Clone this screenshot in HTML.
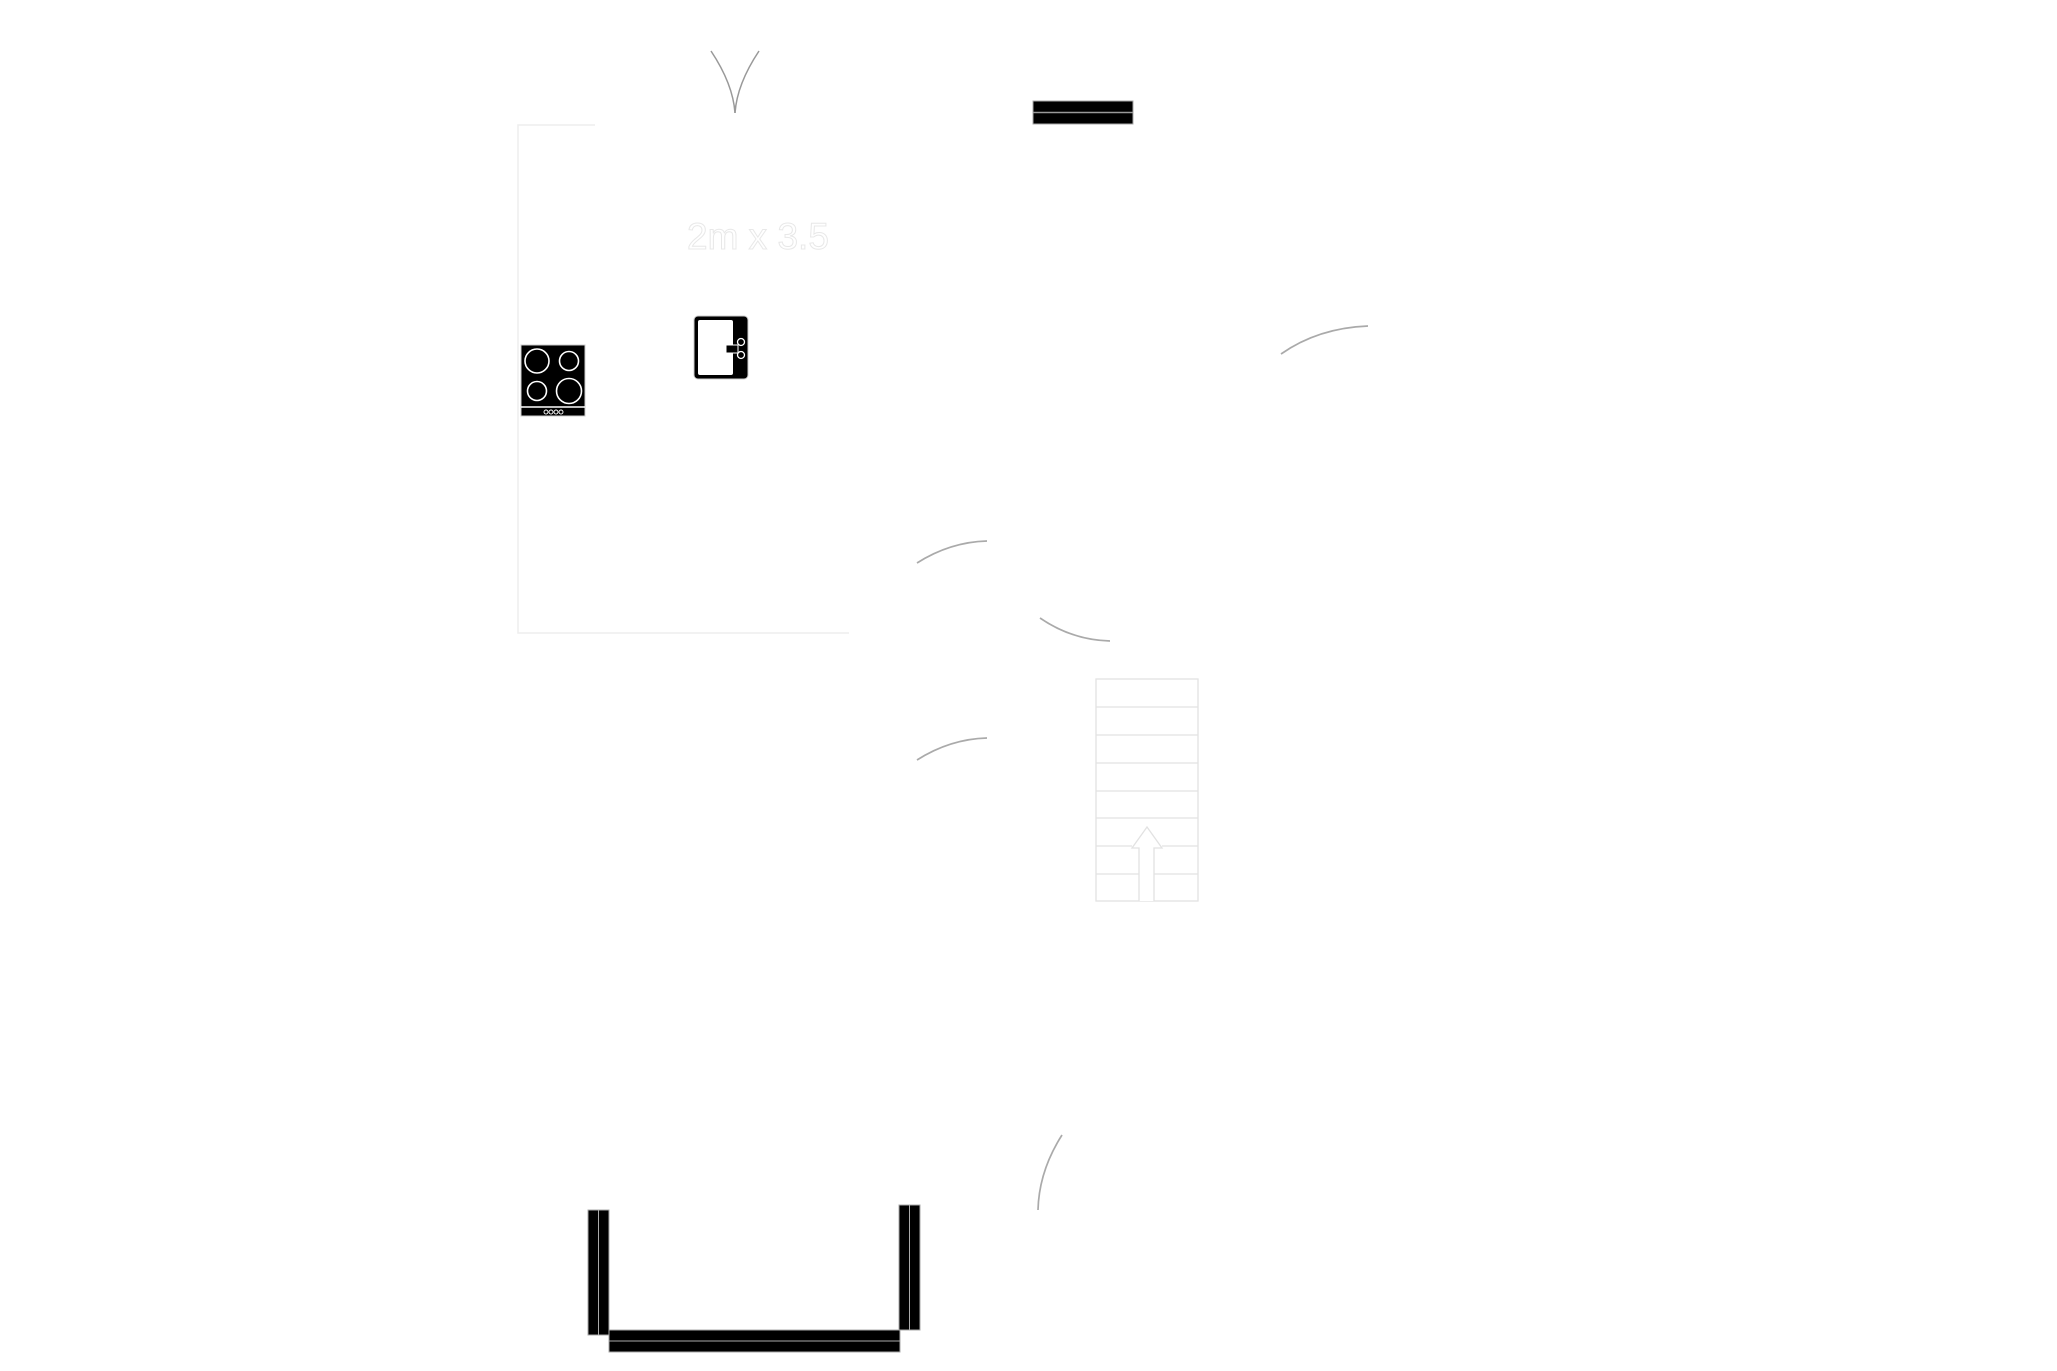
<!DOCTYPE html>
<html><head><meta charset="utf-8"><style>
html,body{margin:0;padding:0;background:#fff;}
svg{display:block;}
</style></head><body>
<svg width="2057" height="1371" viewBox="0 0 2057 1371" xmlns="http://www.w3.org/2000/svg">
<rect width="2057" height="1371" fill="#fff"/>
<!-- room outline -->
<path d="M595 125 H518 V633 H849" fill="none" stroke="#eee" stroke-width="1.5"/>
<!-- Y door swings -->
<path d="M711 51 Q733 84 735 113" fill="none" stroke="#999" stroke-width="1.5"/>
<path d="M759 51 Q737 84 735 113" fill="none" stroke="#999" stroke-width="1.5"/>
<!-- top bar -->
<rect x="1033" y="101" width="100" height="23" fill="#000" stroke="#aaa" stroke-width="1"/>
<line x1="1033" y1="112.5" x2="1133" y2="112.5" stroke="#999" stroke-width="1.5"/>
<!-- text -->
<text x="687" y="249" font-family="Liberation Sans, sans-serif" font-size="37" fill="#fff" stroke="#e8e8e8" stroke-width="1">2m  x 3.5</text>
<!-- sink -->
<rect x="694" y="316" width="54" height="63" rx="4" fill="#000" stroke="#ccc"/>
<rect x="698" y="320" width="35" height="55" rx="2" fill="#fff"/>
<rect x="726" y="345" width="12" height="8" fill="#000" stroke="#fff" stroke-width="1"/>
<circle cx="741" cy="342" r="3.5" fill="none" stroke="#fff" stroke-width="1.3"/>
<circle cx="741" cy="355" r="3.5" fill="none" stroke="#fff" stroke-width="1.3"/>
<!-- hob -->
<rect x="521" y="345" width="64" height="71" fill="#000" stroke="#ccc"/>
<circle cx="537" cy="361" r="12" fill="none" stroke="#fff" stroke-width="1.6"/>
<circle cx="569" cy="361" r="9.5" fill="none" stroke="#fff" stroke-width="1.6"/>
<circle cx="537" cy="391" r="9.5" fill="none" stroke="#fff" stroke-width="1.6"/>
<circle cx="569" cy="391" r="12.5" fill="none" stroke="#fff" stroke-width="1.6"/>
<line x1="521" y1="407" x2="585" y2="407" stroke="#fff" stroke-width="1.5"/>
<g fill="none" stroke="#fff" stroke-width="0.9"><circle cx="546" cy="412" r="2"/><circle cx="551" cy="412" r="2"/><circle cx="556" cy="412" r="2"/><circle cx="561" cy="412" r="2"/></g>
<!-- arcs -->
<g fill="none" stroke="#aaa" stroke-width="1.7">
<path d="M1281 354 Q1318 328 1368 326"/>
<path d="M917 563 Q950 542 987 541"/>
<path d="M1040 618 Q1072 640 1110 641"/>
<path d="M917 760 Q950 739 987 738"/>
<path d="M1062 1135 Q1039 1171 1038 1210"/>
</g>
<!-- stairs -->
<g fill="none" stroke="#e2e2e2" stroke-width="1.3">
<rect x="1096" y="679" width="102" height="222"/>
<line x1="1096" y1="707" x2="1198" y2="707"/>
<line x1="1096" y1="735" x2="1198" y2="735"/>
<line x1="1096" y1="763" x2="1198" y2="763"/>
<line x1="1096" y1="791" x2="1198" y2="791"/>
<line x1="1096" y1="818" x2="1198" y2="818"/>
<line x1="1096" y1="846" x2="1132" y2="846"/><line x1="1162" y1="846" x2="1198" y2="846"/>
<line x1="1096" y1="874" x2="1139" y2="874"/><line x1="1154" y1="874" x2="1198" y2="874"/>
</g>
<path d="M1139 901 V848 H1132 L1147 827 L1162 848 H1154 V901" fill="#fff" stroke="#e2e2e2" stroke-width="1.3"/>
<!-- U shape -->
<g fill="#000" stroke="#aaa" stroke-width="1">
<rect x="588" y="1210" width="10.5" height="125"/>
<rect x="598.5" y="1210" width="10.5" height="125"/>
<rect x="899" y="1205" width="10.5" height="125"/>
<rect x="909.5" y="1205" width="10.5" height="125"/>
<rect x="609" y="1330" width="291" height="11"/>
<rect x="609" y="1341" width="291" height="11"/>
</g>
</svg>
</body></html>
